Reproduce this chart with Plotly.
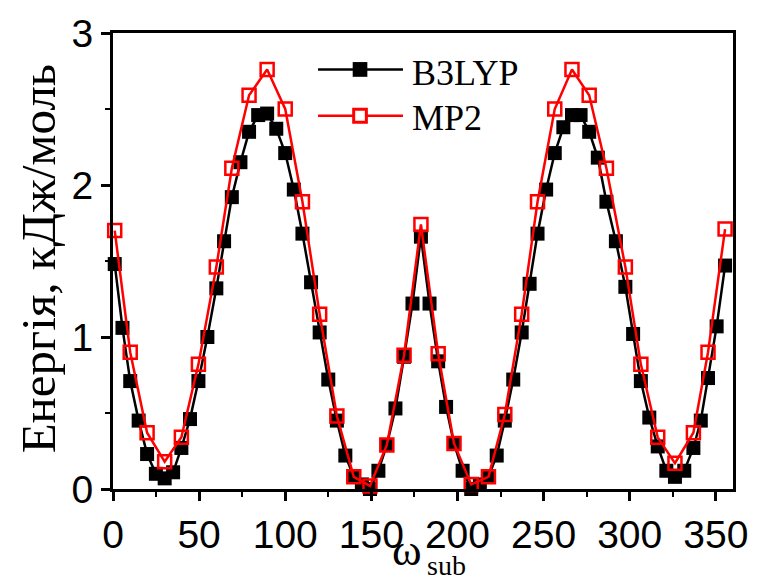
import plotly.graph_objects as go

# --- data ---
mp2_x = [1, 10, 19.8, 30, 39.7, 49.6, 60, 69, 79, 89.5, 100, 110, 120, 130, 139.8,
         149.2, 159, 169, 178.8, 188.8, 198, 208, 218, 227.5, 237.3, 246.5, 256.5,
         266.5, 276.5, 286.5, 297.5, 306.5, 316.3, 326.3, 337, 345.5, 355.4]
mp2_y = [1.70, 0.90, 0.37, 0.18, 0.34, 0.82, 1.46, 2.11, 2.59, 2.76, 2.50, 1.89,
         1.15, 0.48, 0.08, 0.02, 0.29, 0.88, 1.74, 0.89, 0.30, 0.03, 0.08, 0.49,
         1.15, 1.89, 2.50, 2.76, 2.59, 2.11, 1.46, 0.82, 0.34, 0.17, 0.37, 0.90, 1.71]

b3lyp_x = [1, 5.5, 10, 14.9, 19.8, 24.9, 30, 34.9, 39.7, 44.7, 49.6, 54.8, 60, 64.5,
           69, 74, 79, 84.3, 89.5, 94.8, 100, 105, 110, 115, 120, 125, 130, 134.9,
           139.8, 144.5, 149.2, 154.1, 159, 164, 169, 173.9, 178.8, 183.8, 188.8,
           193.4, 198, 203, 208, 213, 218, 222.8, 227.5, 232.4, 237.3, 241.9, 246.5,
           251.5, 256.5, 261.5, 266.5, 271.5, 276.5, 281.5, 286.5, 292, 297.5, 302,
           306.5, 311.4, 316.3, 321.3, 326.3, 331.7, 337, 341.3, 345.5, 350.5, 355.4]
b3lyp_y = [1.48, 1.06, 0.71, 0.45, 0.23, 0.10, 0.07, 0.11, 0.27, 0.46, 0.71, 1.00,
           1.32, 1.63, 1.92, 2.15, 2.35, 2.46, 2.47, 2.37, 2.21, 1.97, 1.68, 1.36,
           1.03, 0.72, 0.45, 0.22, 0.08, 0.03, 0.00, 0.12, 0.29, 0.53, 0.87, 1.22,
           1.66, 1.22, 0.84, 0.54, 0.30, 0.12, 0.00, 0.03, 0.08, 0.22, 0.45, 0.72,
           1.03, 1.35, 1.68, 1.97, 2.21, 2.38, 2.46, 2.46, 2.35, 2.18, 1.89, 1.63,
           1.33, 1.02, 0.71, 0.47, 0.28, 0.12, 0.08, 0.12, 0.27, 0.45, 0.73, 1.07, 1.47]

series_names = ["B3LYP", "MP2"]
x_ticks = [0, 50, 100, 150, 200, 250, 300, 350]
y_ticks = [0, 1, 2, 3]
y_title = "Енергія, кДж/моль"
x_title_main = "ω"
x_title_sub = "sub"

BLACK = "#000000"
RED = "#ff0000"
SERIF = "Liberation Serif, Times New Roman, serif"

fig = go.Figure()
fig.add_trace(go.Scatter(
    x=b3lyp_x, y=b3lyp_y, mode="lines+markers", name=series_names[0],
    line=dict(color=BLACK, width=2.5),
    marker=dict(symbol="square", size=14, color=BLACK),
    cliponaxis=False, showlegend=False))
fig.add_trace(go.Scatter(
    x=mp2_x, y=mp2_y, mode="lines+markers", name=series_names[1],
    line=dict(color=RED, width=2.5),
    marker=dict(symbol="square-open", size=13, color=RED, line=dict(width=2.5, color=RED)),
    cliponaxis=False, showlegend=False))

W, H = 760, 584
L, R, T, B = 113, 12, 26, 95
pw, ph = W - L - R, H - T - B

def px(xp):
    return (xp - L) / pw

def py(yp):
    return (H - B - yp) / ph

shapes = []
annotations = []
# manual legend (line + marker + label)
leg = [(63, 67, BLACK, True), (110, 112, RED, False)]
for (ly, ty, col, filled), name in zip(leg, series_names):
    shapes.append(dict(type="line", xref="paper", yref="paper",
                       x0=px(323), x1=px(410), y0=py(ly), y1=py(ly),
                       line=dict(color=col, width=2.5)))
    hs = 7.5 if filled else 6.5
    shapes.append(dict(type="rect", xref="paper", yref="paper",
                       x0=px(366 - hs), x1=px(366 + hs), y0=py(ly + hs), y1=py(ly - hs),
                       fillcolor=col if filled else "white",
                       line=dict(color=col, width=0 if filled else 3)))
    annotations.append(dict(text=name, xref="paper", yref="paper", x=px(417), y=py(ty),
                            xanchor="left", yanchor="middle", showarrow=False,
                            font=dict(family=SERIF, size=36, color=BLACK)))

annotations.append(dict(text=y_title, xref="paper", yref="paper", x=px(37), y=py(255),
                        xanchor="center", yanchor="middle", textangle=-90, showarrow=False,
                        font=dict(family=SERIF, size=49, color=BLACK)))
annotations.append(dict(text=x_title_main, xref="paper", yref="paper", x=px(414), y=py(551),
                        xanchor="center", yanchor="middle", showarrow=False,
                        font=dict(family=SERIF, size=45, color=BLACK)))
annotations.append(dict(text=x_title_sub, xref="paper", yref="paper", x=px(433), y=py(584),
                        xanchor="left", yanchor="bottom", showarrow=False,
                        font=dict(family=SERIF, size=28, color=BLACK)))

tickfont = dict(family="Liberation Sans Narrow, Liberation Sans, Arial, sans-serif",
                size=39, color=BLACK)

fig.update_layout(
    width=W, height=H,
    margin=dict(l=L, r=R, t=T, b=B),
    paper_bgcolor="white", plot_bgcolor="white",
    shapes=shapes, annotations=annotations,
    xaxis=dict(range=[0, 360], tickvals=x_ticks, showgrid=False, zeroline=False,
               showline=True, linecolor=BLACK, linewidth=3, mirror=True,
               ticks="outside", ticklen=9, tickwidth=2.5, tickcolor=BLACK,
               ticklabeloverflow="allow",
               minor=dict(ticks="outside", ticklen=5, tickwidth=2, dtick=25,
                          tick0=0, tickcolor=BLACK, showgrid=False),
               tickfont=tickfont),
    yaxis=dict(range=[0, 3], tickvals=y_ticks, showgrid=False, zeroline=False,
               showline=True, linecolor=BLACK, linewidth=3, mirror=True,
               ticks="outside", ticklen=9, tickwidth=2.5, tickcolor=BLACK,
               ticklabeloverflow="allow",
               minor=dict(ticks="outside", ticklen=5, tickwidth=2, dtick=0.5,
                          tick0=0, tickcolor=BLACK, showgrid=False),
               tickfont=tickfont),
)

fig.write_html("out.html")
